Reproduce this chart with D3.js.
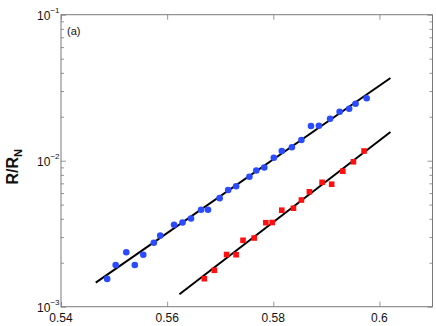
<!DOCTYPE html>
<html>
<head>
<meta charset="utf-8">
<script src="https://cdn.jsdelivr.net/npm/d3@7/dist/d3.min.js"></script>
<style>
  body { margin: 0; background: #fff; }
  svg { display: block; font-family: "Liberation Sans", Arial, sans-serif; }
</style>
</head>
<body>
<div id="chart"></div>
<script>
// ===============================
// Données
// ===============================
const bleuX = [0.5487, 0.5503, 0.5523, 0.5539, 0.5555, 0.5575, 0.5587, 0.5613, 0.5629, 0.5645,
  0.5664, 0.5677, 0.5699, 0.5715, 0.5730, 0.5755, 0.5768, 0.5783, 0.5801, 0.5816,
  0.5835, 0.5853, 0.5871, 0.5886, 0.5907, 0.5925, 0.5943, 0.5955, 0.5976];
const bleuY = [1.55e-3, 1.93e-3, 2.36e-3, 1.93e-3, 2.27e-3, 2.74e-3, 3.07e-3, 3.64e-3, 3.77e-3, 4.02e-3,
  4.61e-3, 4.61e-3, 5.54e-3, 6.30e-3, 6.68e-3, 7.77e-3, 8.57e-3, 8.98e-3, 1.047e-2, 1.165e-2,
  1.235e-2, 1.386e-2, 1.728e-2, 1.736e-2, 1.936e-2, 2.166e-2, 2.27e-2, 2.457e-2, 2.676e-2];

const rougeX = [0.5670, 0.5689, 0.5712, 0.5730, 0.5743, 0.5764, 0.5786, 0.5798, 0.5816, 0.5838,
  0.5853, 0.5868, 0.5892, 0.5910, 0.5931, 0.5951, 0.5971];
const rougeY = [1.555e-3, 1.776e-3, 2.277e-3, 2.27e-3, 2.85e-3, 2.955e-3, 3.761e-3, 3.773e-3, 4.581e-3, 4.728e-3,
  5.379e-3, 6.124e-3, 7.113e-3, 6.902e-3, 8.473e-3, 9.829e-3, 1.165e-2];

// droites d'ajustement (extrémités)
const ajustBleuX = [0.54655, 0.60208];
const ajustBleuY = [1.461e-3, 3.684e-2];
const ajustRougeX = [0.56232, 0.60208];
const ajustRougeY = [1.216e-3, 1.573e-2];

const ticksX = [0.54, 0.56, 0.58, 0.6];
const ticksXLabels = ["0.54", "0.56", "0.58", "0.6"];
const ticksY = [1e-3, 1e-2, 1e-1];
const ticksYExposants = ["\u22123", "\u22122", "\u22121"];

// ===============================
// Mise en place du graphique
// ===============================
const largeur = 436, hauteur = 326;
const marge = { haut: 14.7, droite: 3.5, bas: 19.3, gauche: 61 };

const svg = d3.select("#chart").append("svg")
  .attr("width", largeur).attr("height", hauteur);

const x = d3.scaleLinear().domain([0.54, 0.61]).range([marge.gauche, largeur - marge.droite]);
const y = d3.scaleLog().domain([1e-3, 1e-1]).range([hauteur - marge.bas, marge.haut]);

const gris = "#7a7a7a";
const x0 = x.range()[0], x1 = x.range()[1];
const y0 = y.range()[0], y1 = y.range()[1];

// Graduations mineures de l'axe log
const mineurs = [];
for (let e = -3; e < -1; e++) {
  for (let k = 2; k <= 9; k++) mineurs.push(k * Math.pow(10, e));
}

// Axes (ticks vers l'intérieur)
svg.append("g").attr("transform", `translate(0,${y0})`)
  .call(d3.axisBottom(x).tickValues(ticksX).tickSizeInner(-5).tickSizeOuter(0).tickFormat(""));
svg.append("g").attr("transform", `translate(0,${y1})`)
  .call(d3.axisTop(x).tickValues(ticksX).tickSizeInner(-5).tickSizeOuter(0).tickFormat(""));
svg.append("g").attr("transform", `translate(${x0},0)`)
  .call(d3.axisLeft(y).tickValues(ticksY).tickSizeInner(-5).tickSizeOuter(0).tickFormat(""));
svg.append("g").attr("transform", `translate(${x1},0)`)
  .call(d3.axisRight(y).tickValues(ticksY).tickSizeInner(-5).tickSizeOuter(0).tickFormat(""));
svg.append("g").attr("transform", `translate(${x0},0)`)
  .call(d3.axisLeft(y).tickValues(mineurs).tickSizeInner(-3).tickSizeOuter(0).tickFormat(""));
svg.append("g").attr("transform", `translate(${x1},0)`)
  .call(d3.axisRight(y).tickValues(mineurs).tickSizeInner(-3).tickSizeOuter(0).tickFormat(""));

svg.selectAll(".domain").remove();
svg.selectAll(".tick line").attr("stroke", gris).attr("stroke-width", 0.8);

// Cadre
svg.append("rect")
  .attr("x", x0).attr("y", y1)
  .attr("width", x1 - x0).attr("height", y0 - y1)
  .attr("fill", "none").attr("stroke", gris).attr("stroke-width", 1);

// Étiquettes x
svg.selectAll(".lblx").data(ticksX).enter().append("text")
  .attr("x", d => x(d)).attr("y", y0 + 15.5)
  .attr("text-anchor", "middle").attr("font-size", 12).attr("fill", "#111")
  .text((d, i) => ticksXLabels[i]);

// Étiquettes y (puissances de 10)
const lbly = svg.selectAll(".lbly").data(ticksY).enter().append("text")
  .attr("x", x0 - 1.5).attr("y", d => y(d) + 5.5)
  .attr("text-anchor", "end").attr("font-size", 12).attr("fill", "#111");
lbly.append("tspan").text("10");
lbly.append("tspan").attr("dy", -7).attr("font-size", 8).text((d, i) => ticksYExposants[i]);

// Titre axe y
const titreY = svg.append("text")
  .attr("transform", `translate(18,${(y0 + y1) / 2 + 6}) rotate(-90)`)
  .attr("text-anchor", "middle").attr("font-size", 16).attr("font-weight", "bold").attr("fill", "#111");
titreY.append("tspan").text("R/R");
titreY.append("tspan").attr("dy", 4).attr("font-size", 11).text("N");

// Étiquette (a)
svg.append("text").attr("x", 67).attr("y", 35)
  .attr("font-size", 11).attr("fill", "#111").text("(a)");

// ===============================
// Droites d'ajustement
// ===============================
const ligne = d3.line().x(d => x(d[0])).y(d => y(d[1]));
svg.append("path").datum(d3.zip(ajustBleuX, ajustBleuY))
  .attr("d", ligne).attr("stroke", "#000").attr("stroke-width", 2).attr("fill", "none");
svg.append("path").datum(d3.zip(ajustRougeX, ajustRougeY))
  .attr("d", ligne).attr("stroke", "#000").attr("stroke-width", 2).attr("fill", "none");

// ===============================
// Points de mesure
// ===============================
svg.selectAll(".bleu").data(d3.zip(bleuX, bleuY)).enter().append("circle")
  .attr("cx", d => x(d[0])).attr("cy", d => y(d[1])).attr("r", 3.3)
  .attr("fill", "#2a4bff");

const cote = 5.6;
svg.selectAll(".rouge").data(d3.zip(rougeX, rougeY)).enter().append("rect")
  .attr("x", d => x(d[0]) - cote / 2).attr("y", d => y(d[1]) - cote / 2)
  .attr("width", cote).attr("height", cote)
  .attr("fill", "#ff1010");
</script>
</body>
</html>
